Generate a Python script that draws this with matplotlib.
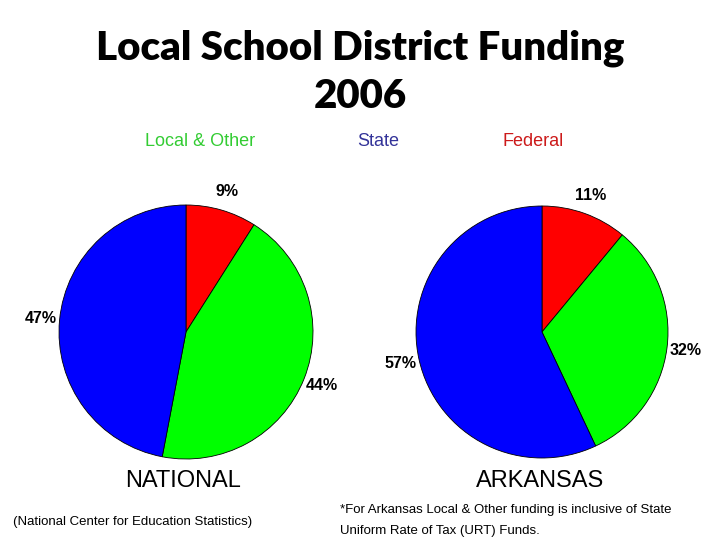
import matplotlib
matplotlib.use('Agg')
import matplotlib.pyplot as plt

plt.rcParams['font.family'] = ['Liberation Sans', 'DejaVu Sans']

categories = ['Federal', 'Local & Other', 'State']
national = [9, 44, 47]
arkansas = [11, 32, 57]
colors = ['#ff0000', '#00ff00', '#0000ff']
header_colors = {'Local & Other': '#33cc33', 'State': '#333399', 'Federal': '#cc1a1a'}

fig = plt.figure(figsize=(7.2, 5.4), dpi=100)

# title
fig.text(0.5, 1 - 48 / 540, 'Local School District Funding', ha='center', va='center',
         fontsize=29, fontweight='heavy', fontfamily='Lato')
fig.text(0.5, 1 - 97 / 540, '2006', ha='center', va='center',
         fontsize=29, fontweight='heavy', fontfamily='Lato')

# header
header_x = {'Local & Other': 200, 'State': 378, 'Federal': 533}
for name in ['Local & Other', 'State', 'Federal']:
    fig.text(header_x[name] / 720, 1 - 142 / 540, name, color=header_colors[name],
             ha='center', va='center', fontsize=13)


def draw_pie(rect, values):
    ax = fig.add_axes(rect)
    wedges, texts = ax.pie(values, colors=colors, startangle=90, counterclock=False,
                           labels=[f'{v}%' for v in values], labeldistance=1.15,
                           wedgeprops=dict(edgecolor='black', linewidth=0.6))
    for t in texts:
        t.set_fontsize(11.5)
        t.set_fontweight('bold')
        t.set_ha('center')
        t.set_va('center')
    ax.set_xlim(-1, 1)
    ax.set_ylim(-1, 1)
    ax.set_aspect('equal')
    return ax


draw_pie([59 / 720, 81 / 540, 254 / 720, 254 / 540], national)
draw_pie([414 / 720, 82 / 540, 256 / 720, 252 / 540], arkansas)

fig.text(183 / 720, 1 - 481 / 540, 'NATIONAL', ha='center', va='center', fontsize=17)
fig.text(540 / 720, 1 - 481 / 540, 'ARKANSAS', ha='center', va='center', fontsize=17)

fig.text(133 / 720, 1 - 522 / 540, '(National Center for Education Statistics)',
         ha='center', va='center', fontsize=9.5)
fig.text(340 / 720, 1 - 510 / 540,
         '*For Arkansas Local & Other funding is inclusive of State',
         ha='left', va='center', fontsize=9.5)
fig.text(340 / 720, 1 - 531 / 540, 'Uniform Rate of Tax (URT) Funds.',
         ha='left', va='center', fontsize=9.5)

fig.savefig('out.png', dpi=100)
